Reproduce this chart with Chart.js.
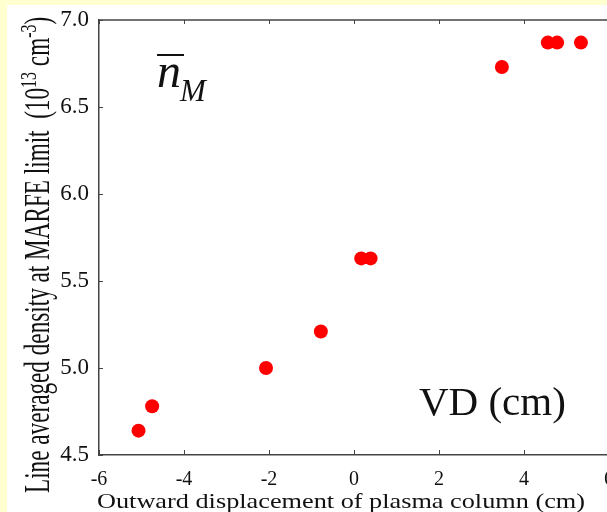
<!DOCTYPE html>
<html>
<head>
<meta charset="utf-8">
<title>MARFE limit vs VD</title>
<script src="https://cdn.jsdelivr.net/npm/chart.js@4.4.1/dist/chart.umd.min.js"></script>
<style>
  html, body { margin: 0; padding: 0; overflow: hidden; background: #FFFFD0; }
  #wrap { position: absolute; left: 0; top: 0; width: 620px; height: 512px; }
</style>
</head>
<body>
<div id="wrap"><canvas id="marfeChart" width="620" height="512"></canvas></div>
<script>
// outward displacement VD (cm) and line averaged density at MARFE limit (10^13 cm^-3)
var displacement = [-5.07, -4.75, -2.07, -0.78, 0.17, 0.39, 3.48, 4.56, 4.78, 5.34];
var density = [4.64, 4.78, 5.00, 5.21, 5.63, 5.63, 6.73, 6.87, 6.87, 6.87];
var xTicks = [-6, -4, -2, 0, 2, 4, 6];
var yTicks = [4.5, 5.0, 5.5, 6.0, 6.5, 7.0];

var serif = "'Liberation Serif', 'DejaVu Serif', serif";

var points = displacement.map(function (x, i) {
  return { x: x, y: density[i] };
});

// background, inward ticks, top border and the texts
var framePlugin = {
  id: "frame",
  beforeDraw: function (chart) {
    var c = chart.ctx;
    c.save();
    c.fillStyle = "#FFFFD0";
    c.fillRect(0, 0, chart.width, chart.height);
    c.fillStyle = "#FFFFFF";
    c.fillRect(7, 5, chart.width - 7, chart.height - 5);
    c.restore();
  },
  afterDraw: function (chart) {
    var c = chart.ctx;
    var a = chart.chartArea;
    var xs = chart.scales.x;
    var ys = chart.scales.y;
    c.save();

    c.strokeStyle = "#444";
    c.lineWidth = 1.5;
    c.beginPath();
    c.moveTo(a.left, a.top);
    c.lineTo(a.right, a.top);
    c.stroke();

    c.lineWidth = 1;
    xTicks.forEach(function (v) {
      var px = Math.round(xs.getPixelForValue(v)) + 0.5;
      c.beginPath();
      c.moveTo(px, a.bottom);
      c.lineTo(px, a.bottom - 5);
      c.moveTo(px, a.top);
      c.lineTo(px, a.top + 4);
      c.stroke();
    });
    yTicks.forEach(function (v) {
      var py = Math.round(ys.getPixelForValue(v)) + 0.5;
      c.beginPath();
      c.moveTo(a.left, py);
      c.lineTo(a.left + 4, py);
      c.stroke();
    });

    c.fillStyle = "#111";
    c.textBaseline = "alphabetic";

    // x axis title
    c.font = "22px " + serif;
    var xt = "Outward displacement of plasma column (cm)";
    var sx = 488 / c.measureText(xt).width;
    c.save();
    c.translate(97, 508);
    c.scale(sx, 1);
    c.fillText(xt, 0, 0);
    c.restore();

    // y axis title, rotated, with superscripts
    c.save();
    c.translate(49, 493);
    c.rotate(-Math.PI / 2);
    c.scale(1, 1.5);
    var pos = 0;
    var parts = [
      ["Line averaged density at MARFE limit  (10", 23.2, 0],
      ["13", 16, -9],
      [" cm", 23.2, 0],
      ["-3", 16, -9],
      [")", 23.2, 0]
    ];
    parts.forEach(function (p) {
      c.font = p[1] + "px " + serif;
      c.fillText(p[0], pos, p[2]);
      pos += c.measureText(p[0]).width;
    });
    c.restore();

    // n-bar with subscript M
    c.font = "italic 48px " + serif;
    c.fillText("n", 157, 87);
    c.lineWidth = 2;
    c.strokeStyle = "#111";
    c.beginPath();
    c.moveTo(157, 55);
    c.lineTo(184, 55);
    c.stroke();
    c.font = "italic 31px " + serif;
    c.fillText("M", 180, 101);

    c.font = "41px " + serif;
    c.fillText("VD (cm)", 419, 415);

    c.restore();
  }
};

var ctx = document.getElementById("marfeChart");

var marfeChart = new Chart(ctx, {
  type: "scatter",
  data: {
    datasets: [
      {
        label: "MARFE limit",
        data: points,
        backgroundColor: "#FF0000",
        borderWidth: 0,
        pointRadius: 7,
        pointHoverRadius: 7,
      },
    ],
  },
  options: {
    responsive: false,
    animation: false,
    devicePixelRatio: 1,
    layout: {
      padding: { left: 0, top: 20, right: 11, bottom: 0 },
    },
    plugins: {
      legend: { display: false },
      tooltip: { enabled: false },
    },
    scales: {
      x: {
        type: "linear",
        min: -6,
        max: 6,
        afterBuildTicks: function (scale) {
          scale.ticks = xTicks.map(function (v) { return { value: v }; });
        },
        afterFit: function (scale) {
          scale.height = 57;
          scale.paddingLeft = 0;
          scale.paddingRight = 0;
        },
        grid: { display: false, drawTicks: false },
        border: { display: true, color: "#444", width: 1.5 },
        ticks: {
          padding: 13,
          color: "#111",
          font: { family: serif, size: 20 },
          maxRotation: 0,
          callback: function (v) { return String(v); },
        },
      },
      y: {
        type: "linear",
        min: 4.5,
        max: 7.0,
        afterBuildTicks: function (scale) {
          scale.ticks = yTicks.map(function (v) { return { value: v }; });
        },
        afterFit: function (scale) {
          scale.width = 99;
          scale.paddingTop = 0;
          scale.paddingBottom = 0;
        },
        grid: { display: false, drawTicks: false },
        border: { display: true, color: "#444", width: 1.5 },
        ticks: {
          padding: 10,
          color: "#111",
          font: { family: serif, size: 23 },
          callback: function (v) { return v.toFixed(1); },
        },
      },
    },
  },
  plugins: [framePlugin],
});
</script>
</body>
</html>
